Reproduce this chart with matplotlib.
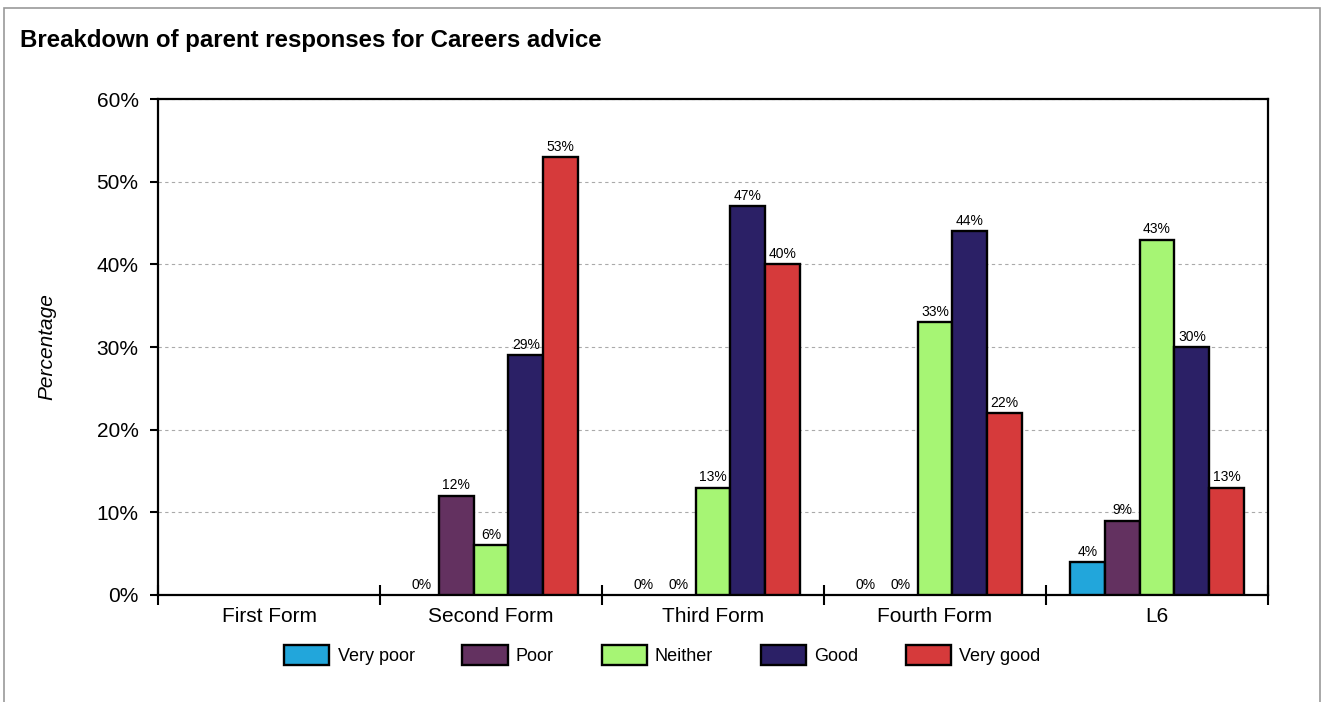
import numpy as np
import matplotlib.pyplot as plt
from matplotlib.patches import Rectangle

plt.rcParams['font.family'] = ['Liberation Sans', 'DejaVu Sans']

categories = ["First Form", "Second Form", "Third Form", "Fourth Form", "L6"]
series = ["Very poor", "Poor", "Neither", "Good", "Very good"]
colors = ["#22a6db", "#633160", "#a6f574", "#2b2066", "#d63a3b"]
# percentages per series, one value per category (nan = no responses)
very_poor = [np.nan, 0, 0, 0, 4]
poor = [np.nan, 12, 0, 0, 9]
neither = [np.nan, 6, 13, 33, 43]
good = [np.nan, 29, 47, 44, 30]
very_good = [np.nan, 53, 40, 22, 13]
values = [very_poor, poor, neither, good, very_good]

fig = plt.figure(figsize=(13.25, 7.02), dpi=100)
ax = fig.add_axes([158/1325, 1-595/702, 1110/1325, 496/702])

x = np.arange(len(categories))
w = 0.157
for i, (name, vals, c) in enumerate(zip(series, values, colors)):
    pos = x + (i - 2) * w
    v = np.array(vals, dtype=float)
    # zero / missing bars are not drawn, only labelled
    heights = np.where(v > 0, v, np.nan)
    ax.bar(pos, heights, w, color=c, edgecolor='black', linewidth=1.7,
           label=name, zorder=3)
    for p, val in zip(pos, v):
        if not np.isnan(val):
            ax.text(p, val + 0.4, f"{val:.0f}%", ha='center', va='bottom',
                    fontsize=10, zorder=4)

ax.set_xlim(-0.5, len(categories) - 0.5)
ax.set_ylim(0, 60)
ax.set_yticks(np.arange(0, 61, 10))
ax.set_yticklabels([f"{t}%" for t in range(0, 61, 10)], fontsize=15)
ax.yaxis.grid(True, linestyle=(0, (3, 3)), color='#aaaaaa', linewidth=0.8, zorder=0)
ax.tick_params(axis='y', direction='out', length=6, width=1.5, pad=8, right=False)

ax.set_xticks(np.arange(-0.5, len(categories)), minor=False)
ax.set_xticklabels([])
ax.set_xticks(x, minor=True)
ax.set_xticklabels(categories, minor=True, fontsize=15)
ax.tick_params(axis='x', which='major', direction='inout', length=14, width=1.5)
ax.tick_params(axis='x', which='minor', length=0, pad=9)

for s in ax.spines.values():
    s.set_linewidth(1.6)

ax.set_ylabel("Percentage", fontsize=15, style='italic')
ax.yaxis.set_label_coords(-0.092, 0.5)

fig.text(20/1325, 1-40/702, "Breakdown of parent responses for Careers advice",
         fontsize=17.3, fontweight='bold', ha='left', va='center')

fig.legend(loc='center', bbox_to_anchor=(0.5, 1-655/702), ncol=5, frameon=False,
           fontsize=13, handlelength=2.5, handleheight=1.4, handletextpad=0.45,
           columnspacing=2.65)

fig.patches.append(Rectangle((4/1325, -0.05), 1316/1325, 1.05 - 8/702,
                             transform=fig.transFigure, fill=False,
                             edgecolor='#999999', linewidth=1.2))

fig.savefig("out.png", dpi=100)
